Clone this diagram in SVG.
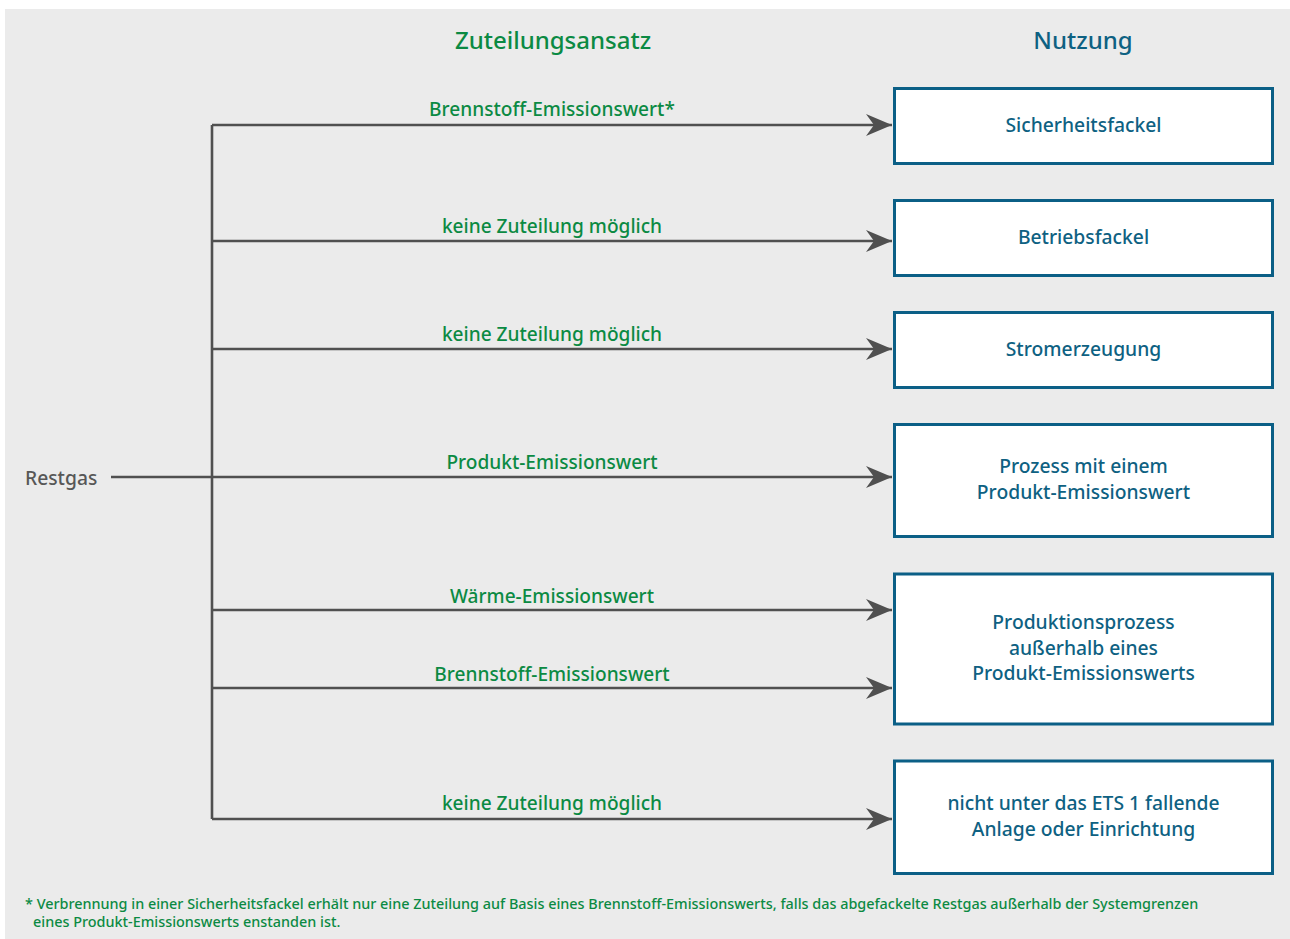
<svg xmlns="http://www.w3.org/2000/svg" width="1290" height="939" viewBox="0 0 1290 939">
<style>
text{font-family:"Noto Sans","Open Sans","DejaVu Sans",sans-serif;font-weight:500}
.hd{font-size:24px}
.g{fill:#0b8a43}
.b{fill:#0e6182}
.lbl{font-size:19.1px;text-anchor:middle}
.bt{font-size:19.3px;text-anchor:middle;fill:#0e6182}
.box{fill:#ffffff;stroke:#0b5f86;stroke-width:3}
.ln{fill:none;stroke:#505050;stroke-width:2.6}
.fn{font-size:14.4px;fill:#0b8a43}
</style>
<defs>
<marker id="ah" markerUnits="userSpaceOnUse" markerWidth="28" markerHeight="24" refX="26" refY="11" orient="auto">
<path d="M26,11 L0,0 L8,11 L0,22 Z" fill="#505050"/>
</marker>
</defs>
<rect x="5" y="9" width="1285" height="930" fill="#ebebeb"/>
<text class="hd g" x="553" y="49" text-anchor="middle">Zuteilungsansatz</text>
<text class="hd b" x="1083" y="49" text-anchor="middle">Nutzung</text>
<g id="restgas"><text x="25" y="485" font-size="19.3" fill="#575757">Restgas</text></g>
<g id="connectors">
<path class="ln" d="M111,477 H212 M212,125 V819"/>
<path class="ln" d="M212,125 H892" marker-end="url(#ah)"/>
<path class="ln" d="M212,241 H892" marker-end="url(#ah)"/>
<path class="ln" d="M212,349 H892" marker-end="url(#ah)"/>
<path class="ln" d="M212,477 H892" marker-end="url(#ah)"/>
<path class="ln" d="M212,610 H892" marker-end="url(#ah)"/>
<path class="ln" d="M212,688 H892" marker-end="url(#ah)"/>
<path class="ln" d="M212,819 H892" marker-end="url(#ah)"/>
<text class="lbl g" x="552" y="116">Brennstoff-Emissionswert*</text>
<text class="lbl g" x="552" y="233">keine Zuteilung möglich</text>
<text class="lbl g" x="552" y="341">keine Zuteilung möglich</text>
<text class="lbl g" x="552" y="469">Produkt-Emissionswert</text>
<text class="lbl g" x="552" y="603">Wärme-Emissionswert</text>
<text class="lbl g" x="552" y="681">Brennstoff-Emissionswert</text>
<text class="lbl g" x="552" y="810">keine Zuteilung möglich</text>
</g>
<g id="n1"><rect class="box" x="894.5" y="88.5" width="378" height="75"/><text class="bt" x="1083.5" y="132">Sicherheitsfackel</text></g>
<g id="n2"><rect class="box" x="894.5" y="200.5" width="378" height="75"/><text class="bt" x="1083.5" y="244">Betriebsfackel</text></g>
<g id="n3"><rect class="box" x="894.5" y="312.5" width="378" height="75"/><text class="bt" x="1083.5" y="356">Stromerzeugung</text></g>
<g id="n4"><rect class="box" x="894.5" y="424.5" width="378" height="112"/><text class="bt" x="1083.5" y="473">Prozess mit einem</text><text class="bt" x="1083.5" y="499">Produkt-Emissionswert</text></g>
<g id="n5"><rect class="box" x="894.5" y="574" width="378" height="150"/><text class="bt" x="1083.5" y="629">Produktionsprozess</text><text class="bt" x="1083.5" y="654.5">außerhalb eines</text><text class="bt" x="1083.5" y="680">Produkt-Emissionswerts</text></g>
<g id="n6"><rect class="box" x="894.5" y="761" width="378" height="112.5"/><text class="bt" x="1083.5" y="810">nicht unter das ETS 1 fallende</text><text class="bt" x="1083.5" y="836">Anlage oder Einrichtung</text></g>
<g id="footnote">
<text class="fn" x="25" y="909">* Verbrennung in einer Sicherheitsfackel erhält nur eine Zuteilung auf Basis eines Brennstoff-Emissionswerts, falls das abgefackelte Restgas außerhalb der Systemgrenzen</text>
<text class="fn" x="33" y="927">eines Produkt-Emissionswerts enstanden ist.</text>
</g>
</svg>
